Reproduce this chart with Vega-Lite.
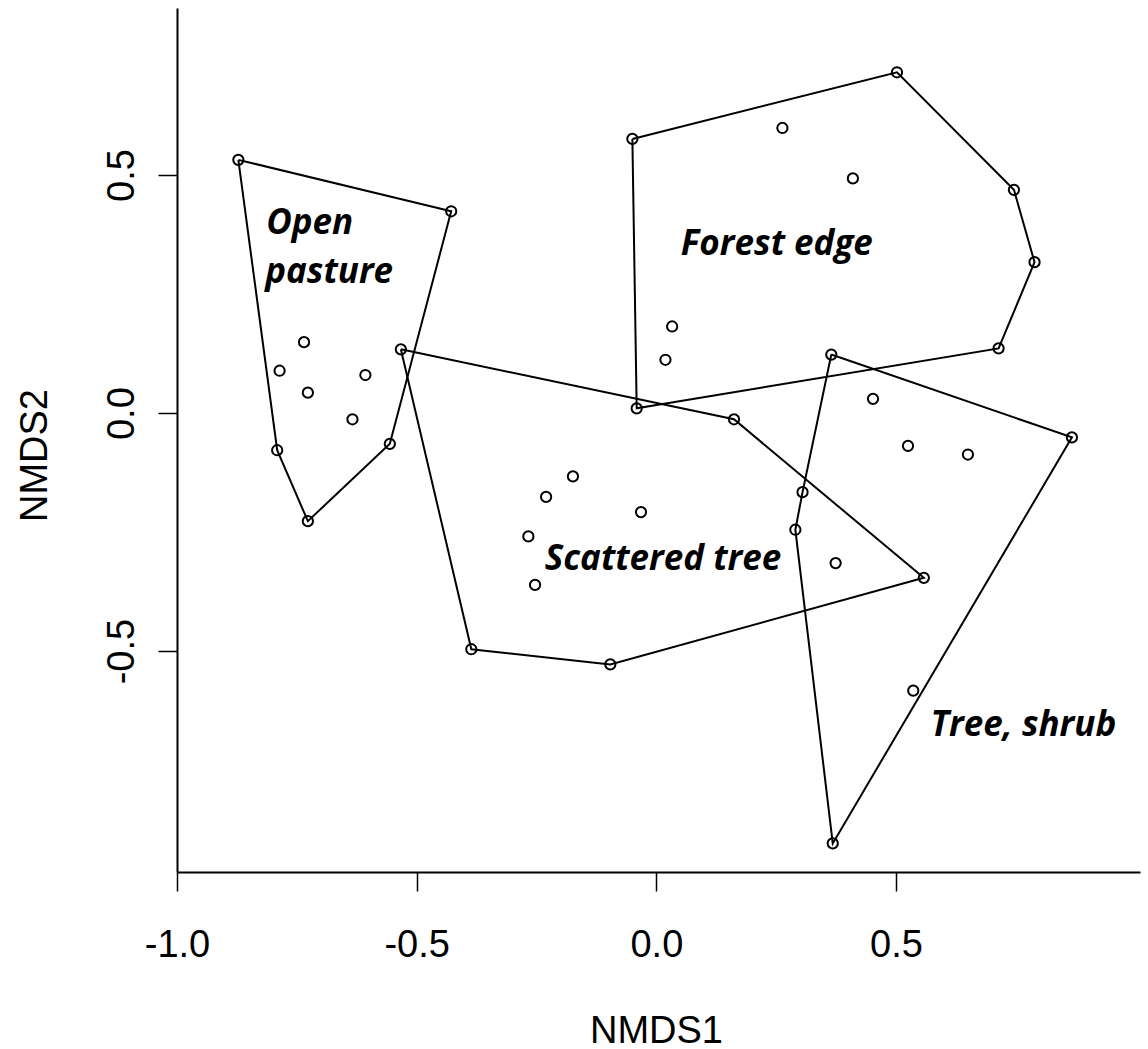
{
  "$schema": "https://vega.github.io/schema/vega-lite/v6.json",
  "autosize": {"type": "none"},
  "padding": {"left": 177, "top": 8, "right": 8, "bottom": 177},
  "width": 963,
  "height": 864,
  "background": "white",
  "config": {"view": {"stroke": null}},
  "datasets": {
    "points": [
      {"g": "Open pasture", "x": -0.872, "y": 0.532},
      {"g": "Open pasture", "x": -0.428, "y": 0.424},
      {"g": "Open pasture", "x": -0.556, "y": -0.0645},
      {"g": "Open pasture", "x": -0.727, "y": -0.227},
      {"g": "Open pasture", "x": -0.791, "y": -0.078},
      {"g": "Open pasture", "x": -0.735, "y": 0.149},
      {"g": "Open pasture", "x": -0.786, "y": 0.089},
      {"g": "Open pasture", "x": -0.727, "y": 0.043},
      {"g": "Open pasture", "x": -0.607, "y": 0.080},
      {"g": "Open pasture", "x": -0.634, "y": -0.013},
      {"g": "Forest edge", "x": -0.050, "y": 0.576},
      {"g": "Forest edge", "x": 0.502, "y": 0.716},
      {"g": "Forest edge", "x": 0.746, "y": 0.469},
      {"g": "Forest edge", "x": 0.789, "y": 0.317},
      {"g": "Forest edge", "x": 0.714, "y": 0.136},
      {"g": "Forest edge", "x": -0.041, "y": 0.010},
      {"g": "Forest edge", "x": 0.263, "y": 0.599},
      {"g": "Forest edge", "x": 0.410, "y": 0.493},
      {"g": "Forest edge", "x": 0.033, "y": 0.182},
      {"g": "Forest edge", "x": 0.019, "y": 0.112},
      {"g": "Scattered tree", "x": -0.533, "y": 0.134},
      {"g": "Scattered tree", "x": 0.162, "y": -0.013},
      {"g": "Scattered tree", "x": 0.558, "y": -0.346},
      {"g": "Scattered tree", "x": -0.096, "y": -0.528},
      {"g": "Scattered tree", "x": -0.386, "y": -0.496},
      {"g": "Scattered tree", "x": -0.174, "y": -0.133},
      {"g": "Scattered tree", "x": -0.230, "y": -0.176},
      {"g": "Scattered tree", "x": -0.032, "y": -0.208},
      {"g": "Scattered tree", "x": -0.267, "y": -0.259},
      {"g": "Scattered tree", "x": -0.253, "y": -0.361},
      {"g": "Scattered tree", "x": 0.374, "y": -0.315},
      {"g": "Tree, shrub", "x": 0.365, "y": 0.123},
      {"g": "Tree, shrub", "x": 0.867, "y": -0.051},
      {"g": "Tree, shrub", "x": 0.368, "y": -0.904},
      {"g": "Tree, shrub", "x": 0.290, "y": -0.245},
      {"g": "Tree, shrub", "x": 0.305, "y": -0.166},
      {"g": "Tree, shrub", "x": 0.452, "y": 0.030},
      {"g": "Tree, shrub", "x": 0.525, "y": -0.069},
      {"g": "Tree, shrub", "x": 0.650, "y": -0.087},
      {"g": "Tree, shrub", "x": 0.536, "y": -0.583}
    ],
    "hulls": [
      {"g": "Open pasture", "o": 1, "x": -0.872, "y": 0.532},
      {"g": "Open pasture", "o": 2, "x": -0.428, "y": 0.424},
      {"g": "Open pasture", "o": 3, "x": -0.556, "y": -0.0645},
      {"g": "Open pasture", "o": 4, "x": -0.727, "y": -0.227},
      {"g": "Open pasture", "o": 5, "x": -0.791, "y": -0.078},
      {"g": "Open pasture", "o": 6, "x": -0.872, "y": 0.532},
      {"g": "Forest edge", "o": 1, "x": -0.050, "y": 0.576},
      {"g": "Forest edge", "o": 2, "x": 0.502, "y": 0.716},
      {"g": "Forest edge", "o": 3, "x": 0.746, "y": 0.469},
      {"g": "Forest edge", "o": 4, "x": 0.789, "y": 0.317},
      {"g": "Forest edge", "o": 5, "x": 0.714, "y": 0.136},
      {"g": "Forest edge", "o": 6, "x": -0.041, "y": 0.010},
      {"g": "Forest edge", "o": 7, "x": -0.050, "y": 0.576},
      {"g": "Scattered tree", "o": 1, "x": -0.533, "y": 0.134},
      {"g": "Scattered tree", "o": 2, "x": 0.162, "y": -0.013},
      {"g": "Scattered tree", "o": 3, "x": 0.558, "y": -0.346},
      {"g": "Scattered tree", "o": 4, "x": -0.096, "y": -0.528},
      {"g": "Scattered tree", "o": 5, "x": -0.386, "y": -0.496},
      {"g": "Scattered tree", "o": 6, "x": -0.533, "y": 0.134},
      {"g": "Tree, shrub", "o": 1, "x": 0.365, "y": 0.123},
      {"g": "Tree, shrub", "o": 2, "x": 0.867, "y": -0.051},
      {"g": "Tree, shrub", "o": 3, "x": 0.368, "y": -0.904},
      {"g": "Tree, shrub", "o": 4, "x": 0.290, "y": -0.245},
      {"g": "Tree, shrub", "o": 5, "x": 0.305, "y": -0.166},
      {"g": "Tree, shrub", "o": 6, "x": 0.365, "y": 0.123}
    ],
    "labels": [
      {"label": "Open", "x": -0.814, "y": 0.376},
      {"label": "pasture", "x": -0.816, "y": 0.273},
      {"label": "Forest edge", "x": 0.051, "y": 0.332},
      {"label": "Scattered tree", "x": -0.233, "y": -0.330},
      {"label": "Tree, shrub", "x": 0.572, "y": -0.679}
    ]
  },
  "encoding": {
    "x": {
      "field": "x", "type": "quantitative",
      "scale": {"domain": [-1.0, 1.009], "nice": false, "zero": false},
      "axis": {
        "title": "NMDS1", "values": [-1, -0.5, 0, 0.5], "grid": false,
        "labelExpr": "datum.value < 0 ? '-' + format(abs(datum.value), '.1f') : format(datum.value, '.1f')",
        "domainColor": "black", "domainWidth": 2, "tickColor": "black", "tickWidth": 1.5, "tickSize": 19,
        "labelFont": "Liberation Sans", "labelFontSize": 38, "labelColor": "black",
        "labelBaseline": "alphabetic", "labelPadding": 65, "labelFlush": false, "labelOverlap": false,
        "titleFont": "Liberation Sans", "titleFontSize": 38, "titleFontWeight": "normal", "titleColor": "black",
        "titleBaseline": "alphabetic", "titleY": 170, "titleX": 479, "titleAlign": "center"
      }
    },
    "y": {
      "field": "y", "type": "quantitative",
      "scale": {"domain": [-0.964, 0.851], "nice": false, "zero": false},
      "axis": {
        "title": "NMDS2", "values": [-0.5, 0, 0.5], "grid": false,
        "labelExpr": "datum.value < 0 ? '-' + format(abs(datum.value), '.1f') : format(datum.value, '.1f')",
        "domainColor": "black", "domainWidth": 2, "tickColor": "black", "tickWidth": 1.5, "tickSize": 19,
        "labelFont": "Liberation Sans", "labelFontSize": 38, "labelColor": "black",
        "labelAngle": -90, "labelAlign": "center", "labelBaseline": "alphabetic", "labelPadding": 25,
        "labelFlush": false, "labelOverlap": false,
        "titleFont": "Liberation Sans", "titleFontSize": 38, "titleFontWeight": "normal", "titleColor": "black",
        "titleAngle": -90, "titleBaseline": "alphabetic", "titleAlign": "center", "titleX": -131, "titleY": 447
      }
    }
  },
  "layer": [
    {
      "data": {"name": "hulls"},
      "mark": {"type": "line", "stroke": "black", "strokeWidth": 2},
      "encoding": {
        "detail": {"field": "g", "type": "nominal"},
        "order": {"field": "o", "type": "quantitative"}
      }
    },
    {
      "data": {"name": "points"},
      "mark": {"type": "point", "shape": "circle", "filled": false, "stroke": "black", "strokeWidth": 2, "size": 105, "opacity": 1}
    },
    {
      "data": {"name": "labels"},
      "mark": {"type": "text", "align": "left", "baseline": "alphabetic", "font": "Open Sans", "fontStyle": "italic", "fontWeight": "bold", "fontSize": 35, "color": "black"},
      "encoding": {"text": {"field": "label", "type": "nominal"}}
    }
  ]
}
